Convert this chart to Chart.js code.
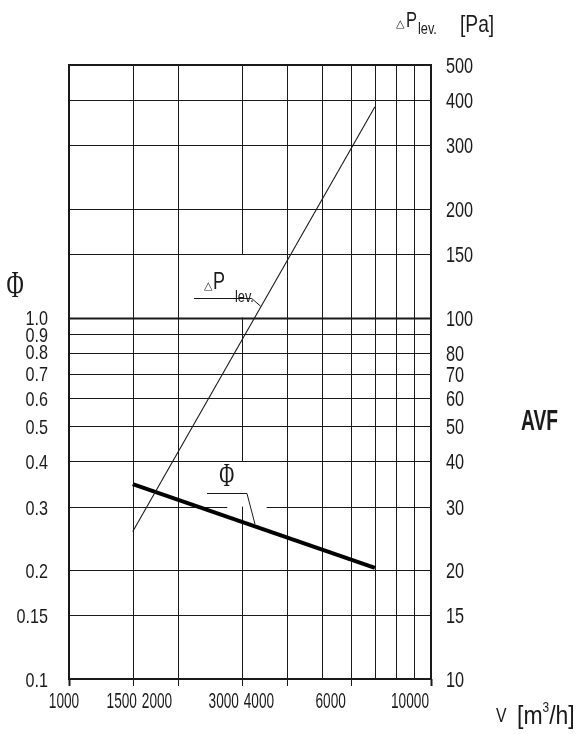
<!DOCTYPE html>
<html>
<head>
<meta charset="utf-8">
<script src="https://cdn.jsdelivr.net/npm/chart.js@4/dist/chart.umd.min.js"></script>
<style>
  html, body { margin: 0; padding: 0; background: #fff; }
  #wrap { width: 578px; height: 734px; position: relative; }
</style>
</head>
<body>
<div id="wrap"><canvas id="c" width="578" height="734"></canvas></div>
<script>
// Air volume flow V [m³/h]
const flow = [1500, 7000];
// Pressure loss ΔP lev. [Pa] at those flows
const pressureLoss = [25.6, 383];
// Coefficient Φ at those flows
const phi = [0.346, 0.203];

// Axis ticks and their labels
const flowTicks  = [1000, 1500, 2000, 3000, 4000, 5000, 6000, 7000, 8000, 9000, 10000];
const flowLabels = ['1000', '1500', '2000', '3000', '4000', '', '6000', '', '', '', '10000'];
const phiTicks   = [0.1, 0.15, 0.2, 0.3, 0.4, 0.5, 0.6, 0.7, 0.8, 0.9, 1.0];
const phiLabels  = ['0.1', '0.15', '0.2', '0.3', '0.4', '0.5', '0.6', '0.7', '0.8', '0.9', '1.0'];
const paTicks    = [10, 15, 20, 30, 40, 50, 60, 70, 80, 90, 100, 150, 200, 300, 400, 500];
const paLabels   = ['10', '15', '20', '30', '40', '50', '60', '70', '80', '', '100', '150', '200', '300', '400', '500'];

// Lettering: a narrow, light sans (plain sans squeezed horizontally)
const FONT = "'Liberation Sans', Arial, sans-serif";
const INK = '#1a1a1a';

// Label placement
const flowLabelShift = [-5, -11, -21, -18, -28, 0, -20, 0, 0, 0, -21];
const phiLabelNudge  = [0, 0, 0, 0, 0, 0, 0, -1, -2, 0, -1];
// Interruptions in the grid around the curve labels (in axis units)
const verticalBreaks   = [{ at: 3000, from: 100, to: 150 }, { at: 3000, from: 30, to: 40 }];
const horizontalBreaks = [{ at: 30, from: 2737, to: 3516 }];

function text(ctx, str, x, y, size, opts = {}) {
  const { align = 'left', weight = 'normal', sx = 0.75, family = FONT } = opts;
  ctx.save();
  ctx.font = `${weight} ${size}px ${family}`;
  ctx.textBaseline = 'alphabetic';
  ctx.textAlign = 'left';
  const w = ctx.measureText(str).width * sx;
  let left = x;
  if (align === 'center') left = x - w / 2;
  else if (align === 'right') left = x - w;
  ctx.translate(left, y);
  ctx.scale(sx, 1);
  ctx.fillText(str, 0, 0);
  ctx.restore();
  return w;
}

function segmentsWithBreaks(lo, hi, breaks) {
  const segs = [];
  let start = lo;
  breaks.sort((a, b) => a[0] - b[0]).forEach(([b0, b1]) => {
    if (b0 > start) segs.push([start, b0]);
    start = Math.max(start, b1);
  });
  if (start < hi) segs.push([start, hi]);
  return segs;
}

// The Φ symbol: a narrow serif letter with stem bars
function drawPhi(ctx, cx, cy, h) {
  ctx.save();
  ctx.translate(cx, cy);
  ctx.scale(0.62, 1);
  ctx.textAlign = 'center';
  ctx.textBaseline = 'middle';
  ctx.font = `${Math.round(h * 1.25)}px 'Liberation Serif', 'DejaVu Serif', serif`;
  ctx.fillText('Φ', 0, 0);
  ctx.restore();
}

const TRI = { sx: 1, family: "'DejaVu Sans', sans-serif" };

const paperGrid = {
  id: 'paperGrid',
  beforeDatasetsDraw(chart) {
    const { ctx, chartArea: a, scales } = chart;
    const x = scales.x, yPa = scales.yPa;
    ctx.save();
    ctx.strokeStyle = INK;
    ctx.lineCap = 'butt';
    // vertical grid lines
    flowTicks.slice(1, -1).forEach(v => {
      const px = Math.round(x.getPixelForValue(v)) + 0.5;
      const br = verticalBreaks.filter(b => b.at === v)
        .map(b => [yPa.getPixelForValue(b.to), yPa.getPixelForValue(b.from)]);
      ctx.lineWidth = 1;
      segmentsWithBreaks(a.top, a.bottom, br).forEach(([s, e]) => {
        ctx.beginPath(); ctx.moveTo(px, s); ctx.lineTo(px, e); ctx.stroke();
      });
    });
    // horizontal grid lines
    paTicks.slice(1, -1).forEach(v => {
      const py = Math.round(yPa.getPixelForValue(v)) + 0.5;
      const br = horizontalBreaks.filter(b => b.at === v)
        .map(b => [x.getPixelForValue(b.from), x.getPixelForValue(b.to)]);
      ctx.lineWidth = v === 100 ? 2 : 1;
      segmentsWithBreaks(a.left, a.right, br).forEach(([s, e]) => {
        ctx.beginPath(); ctx.moveTo(s, py); ctx.lineTo(e, py); ctx.stroke();
      });
    });
    // frame
    ctx.lineWidth = 2;
    ctx.strokeRect(a.left, a.top, a.right - a.left, a.bottom - a.top);
    // tick stubs under the flow axis
    flowTicks.forEach((v, i) => {
      if (!flowLabels[i]) return;
      const px = Math.round(x.getPixelForValue(v)) + 0.5;
      ctx.lineWidth = (i === 0 || i === flowTicks.length - 1) ? 2 : 1;
      ctx.beginPath(); ctx.moveTo(px, a.bottom); ctx.lineTo(px, a.bottom + 7); ctx.stroke();
    });
    ctx.restore();
  },
  afterDraw(chart) {
    const { ctx, chartArea: a, scales } = chart;
    const x = scales.x, yPa = scales.yPa, yPhi = scales.yPhi;
    ctx.save();
    ctx.fillStyle = INK;
    ctx.strokeStyle = INK;

    // Φ tick labels (left)
    phiTicks.forEach((v, i) => {
      text(ctx, phiLabels[i], a.left - 21, yPhi.getPixelForValue(v) + 8 + phiLabelNudge[i], 21, { align: 'right', sx: 0.77 });
    });
    // ΔP tick labels (right)
    paTicks.forEach((v, i) => {
      if (!paLabels[i]) return;
      text(ctx, paLabels[i], a.right + 15, yPa.getPixelForValue(v) + 8, 22, { sx: 0.74 });
    });
    // flow tick labels (bottom)
    flowTicks.forEach((v, i) => {
      if (!flowLabels[i]) return;
      text(ctx, flowLabels[i], x.getPixelForValue(v) + flowLabelShift[i], a.bottom + 29, 22, { align: 'center', sx: 0.62 });
    });

    // flow axis title: V [m³/h]
    text(ctx, 'V', 496, 722, 21);
    let cx = 517;
    cx += text(ctx, '[m', cx, 724, 25, { sx: 0.92 });
    cx += text(ctx, '3', cx, 712, 14, { sx: 0.85 });
    text(ctx, '/h]', cx, 724, 25, { sx: 0.92 });

    // pressure axis title: ΔP lev. [Pa]
    text(ctx, '△', 396, 27, 11, TRI);
    text(ctx, 'P', 406, 27, 22);
    text(ctx, 'lev.', 418, 34, 17);
    text(ctx, '[Pa]', 460, 32, 24, { sx: 0.8 });

    // Φ axis symbol
    drawPhi(ctx, 15, 287, 30);

    // model name
    text(ctx, 'AVF', 521, 430, 30, { weight: 'bold', sx: 0.64 });

    // ΔP curve label with leader
    const lp = (f, p) => [x.getPixelForValue(f), yPa.getPixelForValue(p)];
    text(ctx, '△', 204, 289, 11, TRI);
    text(ctx, 'P', 213, 289, 24);
    text(ctx, 'lev.', 235, 302, 17);
    ctx.lineWidth = 1;
    const p0 = lp(2214, 113.4), p1 = lp(3197, 113.4), p2 = lp(3385, 107.5);
    ctx.beginPath();
    ctx.moveTo(p0[0], Math.round(p0[1]) + 0.5);
    ctx.lineTo(p1[0], Math.round(p1[1]) + 0.5);
    ctx.lineTo(p2[0], p2[1]);
    ctx.stroke();

    // Φ curve label with leader
    const lf = (f, v) => [x.getPixelForValue(f), yPhi.getPixelForValue(v)];
    const c = lf(2727, 0.361);
    drawPhi(ctx, c[0], c[1], 26);
    const q0 = lf(2406, 0.3275), q1 = lf(3102, 0.3275), q2 = lf(3265, 0.268);
    ctx.beginPath();
    ctx.moveTo(q0[0], Math.round(q0[1]) + 0.5);
    ctx.lineTo(q1[0], Math.round(q1[1]) + 0.5);
    ctx.lineTo(q2[0], q2[1]);
    ctx.stroke();

    ctx.restore();
  }
};

const fixedWidth = w => scale => { scale.width = w; };

new Chart(document.getElementById('c'), {
  type: 'line',
  data: {
    datasets: [
      {
        label: 'ΔP lev.',
        data: flow.map((f, i) => ({ x: f, y: pressureLoss[i] })),
        yAxisID: 'yPa',
        borderColor: INK,
        borderWidth: 1.1,
        pointRadius: 0,
        tension: 0
      },
      {
        label: 'Φ',
        data: flow.map((f, i) => ({ x: f, y: phi[i] })),
        yAxisID: 'yPhi',
        borderColor: '#000',
        borderWidth: 4,
        pointRadius: 0,
        tension: 0
      }
    ]
  },
  options: {
    responsive: false,
    animation: false,
    layout: { padding: { top: 65, left: 0, right: 0, bottom: 0 } },
    plugins: { legend: { display: false }, tooltip: { enabled: false } },
    scales: {
      x: {
        type: 'logarithmic',
        min: 1000, max: 10000,
        grid: { display: false, drawTicks: false },
        border: { display: false },
        ticks: { display: false },
        afterFit: scale => { scale.height = 55; }
      },
      yPhi: {
        type: 'logarithmic',
        position: 'left',
        min: 0.1, max: 5,
        grid: { display: false, drawTicks: false },
        border: { display: false },
        afterBuildTicks: scale => { scale.ticks = phiTicks.map(v => ({ value: v })); },
        ticks: { display: false },
        afterFit: fixedWidth(69)
      },
      yPa: {
        type: 'logarithmic',
        position: 'right',
        min: 10, max: 500,
        grid: { display: false, drawTicks: false },
        border: { display: false },
        afterBuildTicks: scale => { scale.ticks = paTicks.map(v => ({ value: v })); },
        ticks: { display: false },
        afterFit: fixedWidth(147)
      }
    }
  },
  plugins: [paperGrid]
});
</script>
</body>
</html>
